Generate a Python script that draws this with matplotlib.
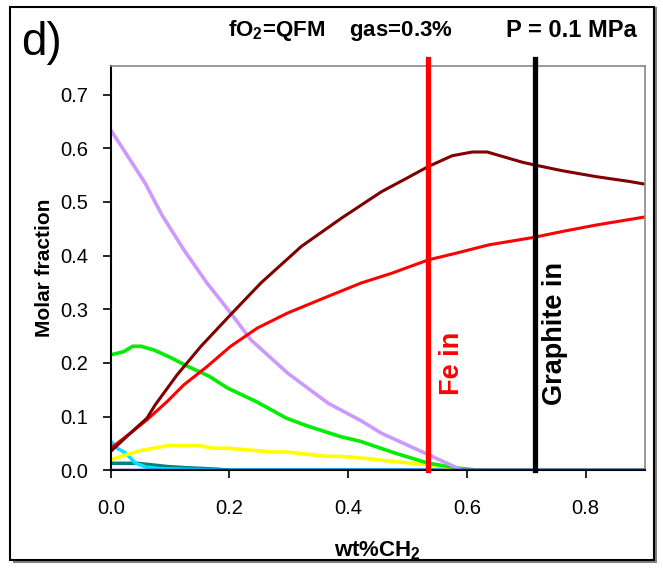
import matplotlib
matplotlib.use('Agg')
import matplotlib.pyplot as plt
from matplotlib.patches import Rectangle

plt.rcParams['font.family'] = ['Liberation Sans', 'DejaVu Sans']
plt.rcParams['mathtext.fontset'] = 'custom'
plt.rcParams['mathtext.rm'] = 'Liberation Sans'
plt.rcParams['mathtext.bf'] = 'Liberation Sans:bold'

# curves (x = wt% CH2, y = molar fraction)
x_darkred = [0, 0.027, 0.061, 0.075, 0.112, 0.152, 0.202, 0.253, 0.321, 0.389, 0.456,
             0.50, 0.535, 0.575, 0.609, 0.634, 0.693, 0.713, 0.761, 0.818, 0.874, 0.9]
y_darkred = [0.035, 0.063, 0.097, 0.122, 0.178, 0.231, 0.290, 0.349, 0.417, 0.470, 0.519,
             0.545, 0.566, 0.586, 0.593, 0.593, 0.574, 0.569, 0.558, 0.547, 0.538, 0.533]

x_red = [0, 0.033, 0.061, 0.095, 0.123, 0.162, 0.202, 0.247, 0.298, 0.366, 0.422, 0.473,
         0.535, 0.580, 0.637, 0.713, 0.761, 0.818, 0.9]
y_red = [0.041, 0.069, 0.094, 0.128, 0.159, 0.193, 0.231, 0.265, 0.293, 0.324, 0.349, 0.367,
         0.392, 0.404, 0.420, 0.434, 0.445, 0.457, 0.472]

x_purple = [0, 0.027, 0.058, 0.086, 0.123, 0.162, 0.202, 0.236, 0.298, 0.366, 0.422, 0.456,
            0.535, 0.592, 0.9]
y_purple = [0.634, 0.588, 0.535, 0.476, 0.411, 0.349, 0.293, 0.243, 0.181, 0.125, 0.092, 0.069,
            0.029, 0.0, 0.0]

x_green = [0, 0.022, 0.037, 0.051, 0.073, 0.099, 0.127, 0.166, 0.197, 0.245, 0.296, 0.330,
           0.386, 0.420, 0.479, 0.535, 0.592, 0.62, 0.9]
y_green = [0.215, 0.221, 0.231, 0.231, 0.224, 0.211, 0.195, 0.175, 0.153, 0.128, 0.097, 0.083,
           0.063, 0.054, 0.032, 0.013, 0.003, 0.0, 0.0]

x_yellow = [0, 0.048, 0.096, 0.149, 0.172, 0.197, 0.273, 0.296, 0.363, 0.386, 0.420, 0.479,
            0.535, 0.59, 0.62, 0.9]
y_yellow = [0.020, 0.036, 0.046, 0.046, 0.041, 0.041, 0.034, 0.034, 0.026, 0.026, 0.023, 0.016,
            0.010, 0.002, 0.0, 0.0]

x_cyan = [0, 0.011, 0.025, 0.042, 0.059, 0.082, 0.2, 0.9]
y_cyan = [0.054, 0.041, 0.032, 0.013, 0.006, 0.003, 0.0, 0.0]

x_teal = [0, 0.045, 0.095, 0.123, 0.18, 0.2, 0.9]
y_teal = [0.013, 0.013, 0.007, 0.005, 0.002, 0.0, 0.0]

x_blue = [0, 0.9]
y_blue = [0.0, 0.0]

fe_in = 0.535
graphite_in = 0.714

fig = plt.figure(figsize=(6.63, 5.70), dpi=100)

# outer frame with shadow
fig.add_artist(Rectangle((0.019, 0.012), 0.972, 0.975, transform=fig.transFigure,
                         facecolor='#808080', edgecolor='none', zorder=-2))
fig.add_artist(Rectangle((0.015, 0.017), 0.972, 0.97, transform=fig.transFigure,
                         facecolor='white', edgecolor='black', lw=1.5, zorder=-1))

ax = fig.add_axes([0.167, 0.175, 0.806, 0.709])

ax.plot(x_blue, y_blue, color='#0000dd', lw=2.5, zorder=3)
ax.plot(x_teal, y_teal, color='#008080', lw=2.5)
ax.plot(x_cyan, y_cyan, color='#00e5ff', lw=2.5)
ax.plot(x_yellow, y_yellow, color='#ffff00', lw=2.6)
ax.plot(x_green, y_green, color='#00ee00', lw=2.6)
ax.plot(x_purple, y_purple, color='#cc99ff', lw=2.6)
ax.plot(x_red, y_red, color='#ff0000', lw=2.2)
ax.plot(x_darkred, y_darkred, color='#800000', lw=2.2)

ax.plot([fe_in, fe_in], [0, 0.766], color='#ff0000', lw=3.8, clip_on=False, zorder=4)
ax.plot([graphite_in, graphite_in], [0, 0.766], color='black', lw=3.8, clip_on=False, zorder=4)

ax.text(0.575, 0.20, 'Fe in', color='#ff0000', rotation=90, fontsize=19.5, fontweight='bold',
        ha='center', va='center')
ax.text(0.749, 0.254, 'Graphite in', color='black', rotation=90, fontsize=19.5,
        fontweight='bold', ha='center', va='center')

ax.set_xlim(0, 0.9)
ax.set_ylim(0, 0.753)
ax.set_xticks([0.0, 0.2, 0.4, 0.6, 0.8])
ax.set_yticks([0.0, 0.1, 0.2, 0.3, 0.4, 0.5, 0.6, 0.7])
ax.xaxis.set_major_formatter(matplotlib.ticker.FormatStrFormatter('%.1f'))
ax.yaxis.set_major_formatter(matplotlib.ticker.FormatStrFormatter('%.1f'))
ax.tick_params(direction='out', length=6, width=1.2, labelsize=14.5, pad=10)
ax.tick_params(axis='x', pad=15)

for s in ['left', 'bottom']:
    ax.spines[s].set_color('black')
    ax.spines[s].set_linewidth(1.5)
for s in ['top', 'right']:
    ax.spines[s].set_color('#888888')
    ax.spines[s].set_linewidth(1.2)

ax.set_ylabel('Molar fraction', fontsize=15, fontweight='bold', labelpad=5)
ax.set_xlabel('wt%CH$_\\mathbf{2}$', fontsize=16, fontweight='bold', labelpad=15)

fig.text(0.032, 0.9035, 'd)', fontsize=33, ha='left', va='baseline')
fig.text(0.344, 0.937, 'fO$_\\mathbf{2}$=QFM    gas=0.3%', fontsize=16, fontweight='bold',
         ha='left', va='baseline')
fig.text(0.961, 0.9345, 'P = 0.1 MPa', fontsize=17, fontweight='bold', ha='right', va='baseline')

fig.savefig('out.png', dpi=100)
